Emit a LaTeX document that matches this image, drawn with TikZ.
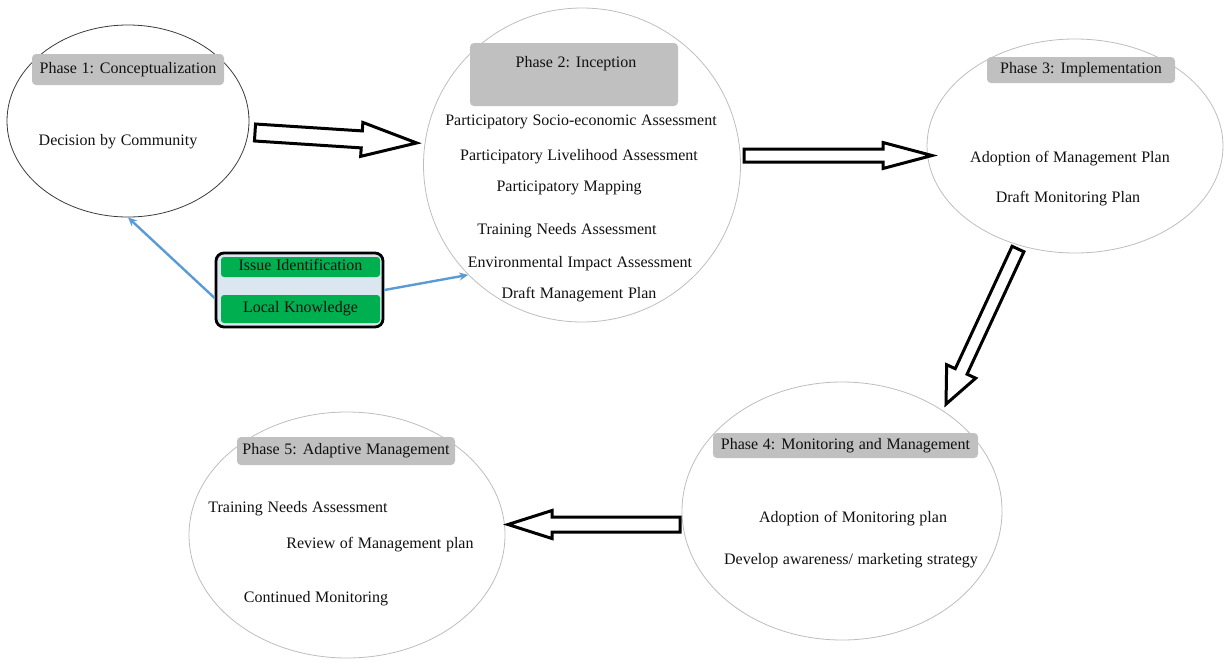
\documentclass[tikz,border=0pt]{standalone}
\usepackage{fontspec}
\setmainfont{Liberation Serif}[WordSpace=1.15]
\usetikzlibrary{shapes.geometric,arrows.meta,calc}
\definecolor{lblgray}{HTML}{C0C0C0}
\definecolor{ringgray}{HTML}{BDBDBD}
\definecolor{ringdark}{HTML}{3A3A3A}
\definecolor{txtcol}{HTML}{111111}
\definecolor{grn}{HTML}{00B050}
\definecolor{boxbg}{HTML}{DCE6F1}
\definecolor{bluearr}{HTML}{5B9BD5}
\newcommand{\blockarr}[7]{%
  \begin{scope}[shift={(#1,#2)},rotate=#3]
    \draw[blockstyle] (0,-#5) -- ({#4-#7},-#5) -- ({#4-#7},-#6) -- (#4,0)
      -- ({#4-#7},#6) -- ({#4-#7},#5) -- (0,#5) -- cycle;
  \end{scope}}
\begin{document}
\begin{tikzpicture}[x=1pt,y=-1pt,
  ring/.style={ellipse,draw=ringgray,line width=0.8pt,inner sep=0pt},
  lab/.style={fill=lblgray,rounded corners=4pt,inner sep=0pt,text=txtcol,
     font=\fontsize{16}{19}\selectfont,text height=10.5pt,text depth=3pt},
  txt/.style={anchor=base,text=txtcol,font=\fontsize{16}{19}\selectfont,inner sep=0pt},
  gbox/.style={fill=grn,rounded corners=3pt,inner sep=0pt,text=txtcol,
     font=\fontsize{16}{19}\selectfont,text height=10.5pt,text depth=3pt},
  blockstyle/.style={draw=black,fill=white,line width=3pt,line join=miter},
  link/.style={draw=bluearr,line width=2.4pt,-{Stealth[length=9pt,width=8pt]}}]
\useasboundingbox (0,0) rectangle (1225,662);

% ellipses
\node[ring,draw=ringdark,minimum width=242pt,minimum height=192pt] (e1) at (128,121) {};
\node[ring,minimum width=317pt,minimum height=314pt] (e2) at (582,165) {};
\node[ring,minimum width=296pt,minimum height=214pt] (e3) at (1075,146) {};
\node[ring,minimum width=320pt,minimum height=258pt] (e4) at (842,511) {};
\node[ring,minimum width=316pt,minimum height=246pt] (e5) at (347,535) {};

% phase labels
\node[lab,minimum width=192pt,minimum height=31pt] (l1) at (128,69.5) {Phase 1: Conceptualization};
\node[lab,minimum width=208pt,minimum height=63pt] (l2) at (574,74.5) {};
\node[txt] (t2) at (576,67) {Phase 2: Inception};
\node[lab,minimum width=188pt,minimum height=26pt] (l3) at (1081,70) {Phase 3: Implementation};
\node[lab,minimum width=265pt,minimum height=25pt] (l4) at (845.5,445.5) {Phase 4: Monitoring and Management};
\node[lab,minimum width=218pt,minimum height=28pt] (l5) at (346,451) {Phase 5: Adaptive Management};

% phase 1 text
\node[txt] (p1a) at (118,145) {Decision by Community};
% phase 2 text
\node[txt] (p2a) at (581,125) {Participatory Socio-economic Assessment};
\node[txt] (p2b) at (579,160) {Participatory Livelihood Assessment};
\node[txt] (p2c) at (569,191) {Participatory Mapping};
\node[txt] (p2d) at (567,234) {Training Needs Assessment};
\node[txt] (p2e) at (580,267) {Environmental Impact Assessment};
\node[txt] (p2f) at (579,298) {Draft Management Plan};
% phase 3 text
\node[txt] (p3a) at (1070,162) {Adoption of Management Plan};
\node[txt] (p3b) at (1068,202) {Draft Monitoring Plan};
% phase 4 text
\node[txt] (p4a) at (853,522) {Adoption of Monitoring plan};
\node[txt] (p4b) at (851,564) {Develop awareness/ marketing strategy};
% phase 5 text
\node[txt] (p5a) at (298,512) {Training Needs Assessment};
\node[txt] (p5b) at (380,548) {Review of Management plan};
\node[txt] (p5c) at (316,602) {Continued Monitoring};

% green box
\node[draw=black,fill=boxbg,line width=2.8pt,rounded corners=8pt,
      minimum width=167pt,minimum height=74pt] (gb) at (299.5,290) {};
\node[gbox,minimum width=159pt,minimum height=20pt] (ii) at (300.5,267) {Issue Identification};
\node[gbox,minimum width=159pt,minimum height=28pt] (lk) at (300.5,309) {Local Knowledge};

% blue links
\draw[link] ($(gb.west)+(0,8)$) -- (e1.south);
\draw[link] (gb.east) -- (e2.224);

% block arrows
\blockarr{255}{132.5}{-3.7}{162}{8.5}{17}{55}
\blockarr{744}{155.5}{0}{188}{6.5}{13}{49}
\blockarr{1018}{249}{-114.9}{171}{6.5}{16}{36}
\blockarr{680}{524.5}{180}{172}{7.5}{14}{44}
\end{tikzpicture}
\end{document}
